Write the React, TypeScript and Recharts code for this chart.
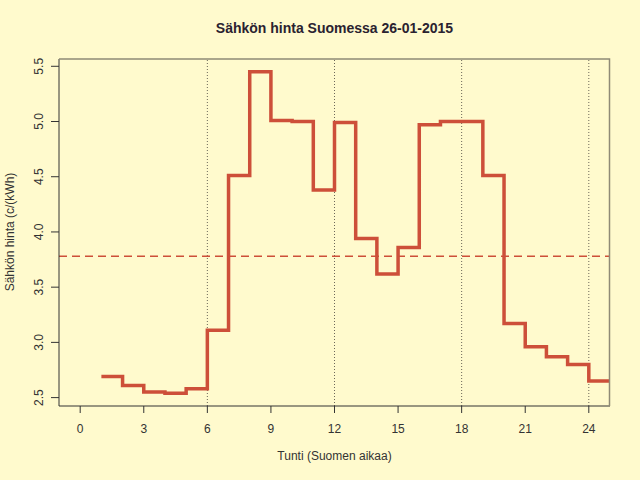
import React from 'react';
import { ComposedChart, Line, XAxis, YAxis, ReferenceLine } from 'recharts';

const HOURS = [1, 2, 3, 4, 5, 6, 7, 8, 9, 10, 11, 12, 13, 14, 15, 16, 17, 18, 19, 20, 21, 22, 23, 24];
const PRICES = [
  2.69, 2.61, 2.55, 2.54, 2.58, 3.11, 4.51, 5.45, 5.01, 5.0, 4.38, 4.99,
  3.94, 3.62, 3.86, 4.97, 5.0, 5.0, 4.51, 3.17, 2.96, 2.87, 2.8, 2.65,
];
const X_TICKS = [0, 3, 6, 9, 12, 15, 18, 21, 24];
const Y_TICKS = [2.5, 3.0, 3.5, 4.0, 4.5, 5.0, 5.5];
const GUIDE_HOURS = [6, 12, 18, 24];
const AVERAGE = 3.78;
const X_DOMAIN = [-1, 25];
const Y_DOMAIN = [2.424, 5.566];

const BG = '#FFFACD';
const LINE = '#CD4F39';
const AXIS = '#333333';
const BOX = '#8f8a76';
const FONT = '"Liberation Sans", Arial, sans-serif';

// step "after": each hour's price holds until the next hour, last one ends at 25
const chartData = [
  ...HOURS.map((h, i) => ({ hour: h, price: PRICES[i] })),
  { hour: HOURS[HOURS.length - 1] + 1, price: PRICES[PRICES.length - 1] },
];

const XTick = (props: any) => {
  const { x, payload } = props;
  return (
    <text x={x} y={433} textAnchor="middle" fontSize={12} fill={AXIS} fontFamily={FONT}>
      {payload.value}
    </text>
  );
};

const YTick = (props: any) => {
  const { y, payload } = props;
  const tx = 43;
  return (
    <text x={tx} y={y} transform={`rotate(-90, ${tx}, ${y})`} textAnchor="middle" fontSize={12} fill={AXIS} fontFamily={FONT}>
      {Number(payload.value).toFixed(1)}
    </text>
  );
};

const App: React.FC = () => {
  return (
    <div style={{ position: 'fixed', left: 0, top: 0, width: 640, height: 480, background: BG, fontFamily: FONT }}>
      <ComposedChart
        width={640}
        height={480}
        data={chartData}
        margin={{ top: 59, right: 30, bottom: 0, left: 0 }}
      >
        <XAxis
          dataKey="hour"
          type="number"
          domain={X_DOMAIN}
          ticks={X_TICKS}
          allowDataOverflow
          height={74}
          tickSize={7}
          stroke={AXIS}
          tick={<XTick />}
        />
        <YAxis
          type="number"
          domain={Y_DOMAIN}
          ticks={Y_TICKS}
          allowDataOverflow
          width={59}
          tickSize={8}
          stroke={AXIS}
          tick={<YTick />}
        />
        {GUIDE_HOURS.map((h) => (
          <ReferenceLine key={h} x={h} stroke="#6b6658" strokeDasharray="1 2" strokeWidth={1} />
        ))}
        <ReferenceLine y={AVERAGE} stroke={LINE} strokeDasharray="8 5" strokeWidth={1.5} />
        <Line
          type="stepAfter"
          dataKey="price"
          stroke={LINE}
          strokeWidth={3.5}
          dot={false}
          activeDot={false}
          isAnimationActive={false}
        />
      </ComposedChart>
      {/* top and right sides of the plot box, drawn over the chart */}
      <svg width={640} height={480} style={{ position: 'absolute', left: 0, top: 0, pointerEvents: 'none' }}>
        <polyline points="59,59 609.5,59 609.5,406" fill="none" stroke={BOX} strokeWidth={1.5} />
      </svg>
      <div style={{ position: 'absolute', top: 20, left: 59, width: 551, textAlign: 'center', fontWeight: 'bold', fontSize: 14, color: '#2a2230' }}>
        Sähkön hinta Suomessa 26-01-2015
      </div>
      <div style={{ position: 'absolute', top: 449, left: 59, width: 551, textAlign: 'center', fontSize: 12, color: AXIS }}>
        Tunti (Suomen aikaa)
      </div>
      <div
        style={{
          position: 'absolute',
          left: 10,
          top: 232,
          transform: 'translate(-50%, -50%) rotate(-90deg)',
          whiteSpace: 'nowrap',
          fontSize: 12,
          color: AXIS,
        }}
      >
        Sähkön hinta (c/(kWh)
      </div>
    </div>
  );
};

export default App;
